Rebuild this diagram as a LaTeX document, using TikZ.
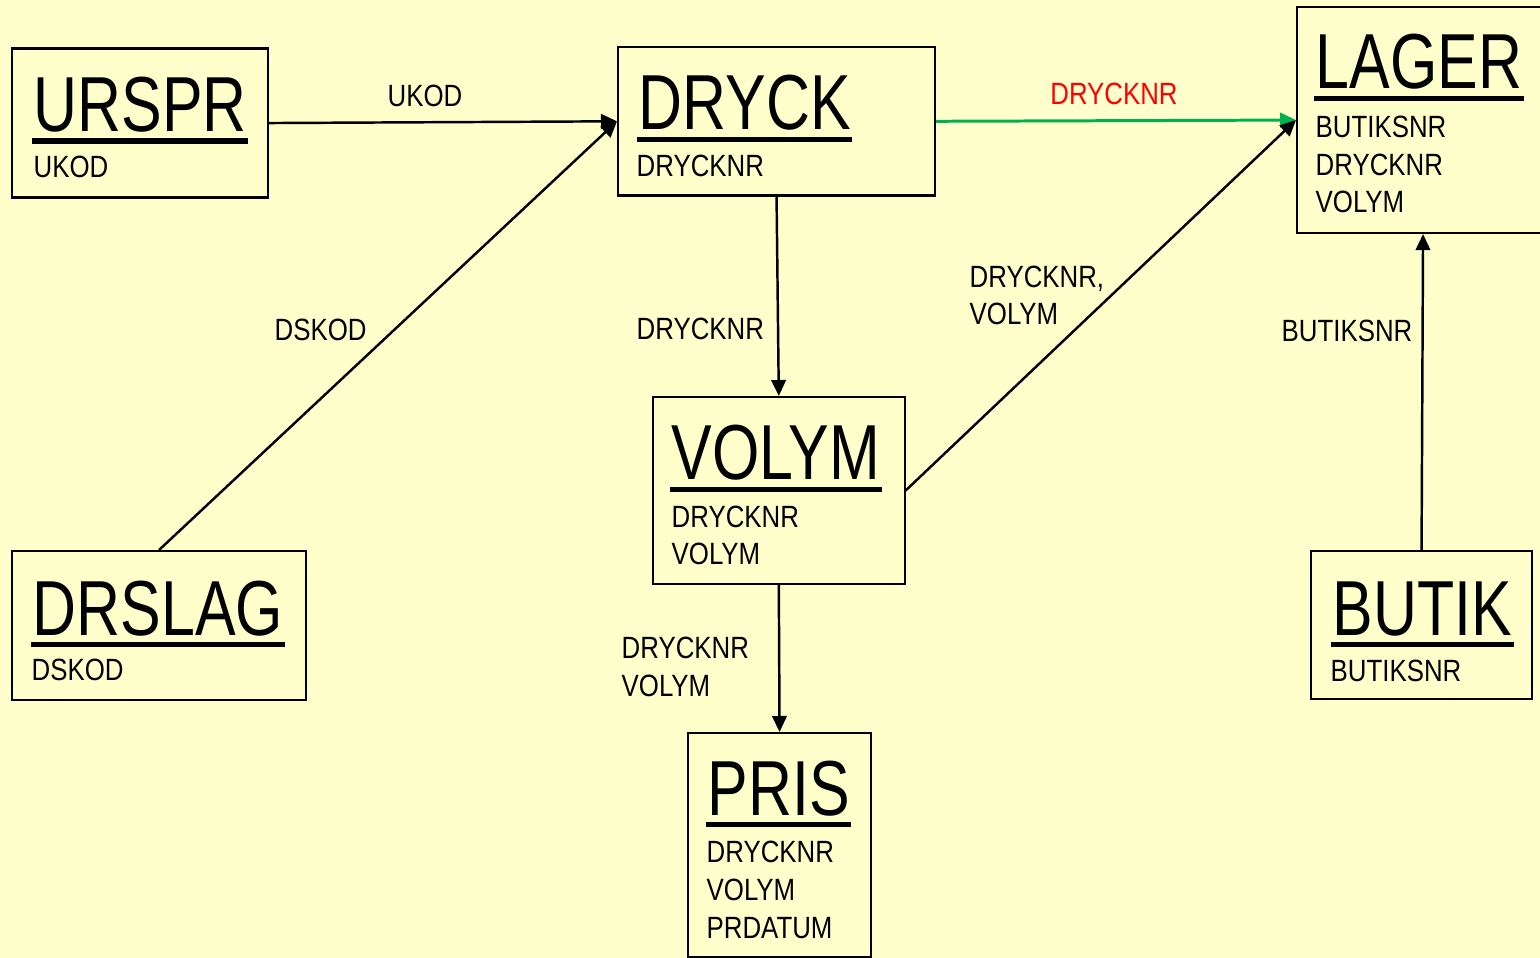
\documentclass[tikz,border=0pt]{standalone}
\usepackage{fontspec}
\setmainfont{Liberation Sans}
\newfontfamily\titlefont[FakeStretch=0.78]{Liberation Sans}
\newfontfamily\fieldfont[FakeStretch=0.84]{Liberation Sans}
\usetikzlibrary{arrows.meta}
\definecolor{paper}{HTML}{FFFFCC}
\definecolor{keygreen}{RGB}{0,176,80}

\begin{document}
\begin{tikzpicture}[x=0.1mm, y=-0.1mm]
    \tikzstyle{ent} = [draw, line width=0.6pt, fill=paper, anchor=north west, inner sep=0]
    \tikzstyle{enttitle} = [anchor=base west, inner sep=0, font=\titlefont\fontsize{22.2}{26}\selectfont]
    % multi-line fields sit on the baseline of their last line
    \tikzstyle{entfield} = [anchor=base west, inner sep=0, align=left, font=\fieldfont\fontsize{8.75}{10.8}\selectfont]
    \tikzstyle{lbl} = [entfield]
    \tikzstyle{rel} = [line width=0.7pt, -{Triangle[length=1.6mm, width=1.45mm]}]
    \tikzstyle{ul} = [line width=1.45pt]

    \fill [paper] (0, 0) rectangle (1540, 958);
    \clip (0, 0) rectangle (1540, 958);

    % entities
    \node [ent, minimum width=25.6mm, minimum height=14.9mm] (urspr) at (11, 47.5) {};
    \node [enttitle] (urspr-t) at (33, 131.5) {URSPR};
    \node [entfield] (urspr-f) at (33, 178) {UKOD};

    \node [ent, minimum width=31.7mm, minimum height=14.85mm] (dryck) at (617, 46) {};
    \node [enttitle] (dryck-t) at (638, 130) {DRYCK};
    \node [entfield] (dryck-f) at (636, 177) {DRYCKNR};

    \node [ent, minimum width=25.2mm, minimum height=22.6mm] (lager) at (1296, 6) {};
    \node [enttitle] (lager-t) at (1315, 89) {LAGER};
    \node [entfield] (lager-f) at (1315, 213) {BUTIKSNR\\DRYCKNR\\VOLYM};

    \node [ent, minimum width=25.15mm, minimum height=18.7mm] (volym) at (652, 396) {};
    \node [enttitle] (volym-t) at (671, 480) {VOLYM};
    \node [entfield] (volym-f) at (671, 565) {DRYCKNR\\VOLYM};

    \node [ent, minimum width=18.3mm, minimum height=22.4mm] (pris) at (687, 732) {};
    \node [enttitle] (pris-t) at (707, 815) {PRIS};
    \node [entfield] (pris-f) at (706, 938) {DRYCKNR\\VOLYM\\PRDATUM};

    \node [ent, minimum width=29.4mm, minimum height=14.9mm] (drslag) at (11, 550) {};
    \node [enttitle] (drslag-t) at (32, 635) {DRSLAG};
    \node [entfield] (drslag-f) at (31, 680) {DSKOD};

    \node [ent, minimum width=22.1mm, minimum height=14.8mm] (butik) at (1310, 550) {};
    \node [enttitle] (butik-t) at (1332, 635) {BUTIK};
    \node [entfield] (butik-f) at (1330, 681) {BUTIKSNR};

    \foreach \n in {urspr, dryck, lager, volym, pris, drslag, butik}
        \draw [ul] ([shift={(-1, 9.5)}]\n-t.base west) -- ([shift={(1, 9.5)}]\n-t.base east);

    % relations
    \draw [rel] (urspr.east) -- (dryck.west);
    \draw [rel] (drslag.north) -- (dryck.west);
    \draw [rel] (dryck.south) -- (volym.north);
    \draw [rel, keygreen, line width=0.85pt] (dryck.east) -- (lager.west);
    \draw [rel] (volym.east) -- (lager.west);
    \draw [rel] (volym.south) -- (pris.north);
    \draw [rel] (butik.north) -- (lager.south);

    \node [lbl, anchor=base] (l-ukod) at (425, 107) {UKOD};
    \node [lbl] (l-dskod) at (274, 341) {DSKOD};
    \node [lbl] (l-down) at (636, 340) {DRYCKNR};
    \node [lbl, anchor=base, red] (l-green) at (1114, 105) {DRYCKNR};
    \node [lbl] (l-diag) at (969, 325) {DRYCKNR,\\VOLYM};
    \node [lbl] (l-pris) at (621, 696) {DRYCKNR\\VOLYM};
    \node [lbl] (l-butik) at (1281, 342) {BUTIKSNR};
\end{tikzpicture}
\end{document}
